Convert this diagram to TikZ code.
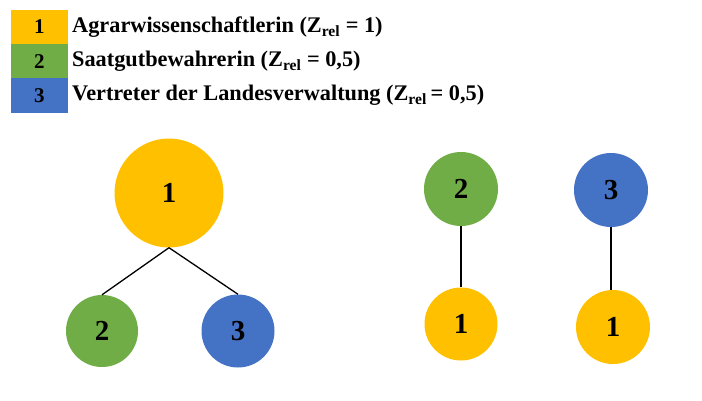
\documentclass[tikz,border=0pt]{standalone}
\usepackage{fontspec}
\setmainfont{Liberation Serif}
\definecolor{cyellow}{HTML}{FFC000}
\definecolor{cgreen}{HTML}{70AD47}
\definecolor{cblue}{HTML}{4472C4}
\begin{document}
\begin{tikzpicture}[x=1pt,y=-1pt,
  legbox/.style={minimum width=57pt,minimum height=34.3pt,inner sep=0pt,font=\fontsize{21}{21}\selectfont\bfseries},
  legtext/.style={anchor=west,inner sep=0pt,font=\fontsize{22.3}{24}\selectfont\bfseries},
  circ/.style={circle,inner sep=0pt,font=\fontsize{29}{29}\selectfont\bfseries},
  link/.style={line width=1.3pt,black}]
\useasboundingbox (0,0) rectangle (702,400);
% legend
\node[legbox,fill=cyellow] (l1) at (39.5,27) {1};
\node[legbox,fill=cgreen] (l2) at (39.5,61.3) {2};
\node[legbox,fill=cblue] (l3) at (39.5,95.6) {3};
\node[legtext] (t1) at (72,27) {Agrarwissenschaftlerin (Z\textsubscript{rel} = 1)};
\node[legtext] (t2) at (72,61.3) {Saatgutbewahrerin (Z\textsubscript{rel} = 0,5)};
\node[legtext] (t3) at (72,95.6) {Vertreter der Landesverwaltung (Z\textsubscript{rel}\,= 0,5)};
% left tree
\node[circ,fill=cyellow,minimum size=109pt] (a1) at (169,193) {1};
\node[circ,fill=cgreen,minimum size=72pt] (a2) at (102,331) {2};
\node[circ,fill=cblue,minimum size=73pt] (a3) at (238,331) {3};
\draw[link] (a1.south) -- (a2.north);
\draw[link] (a1.south) -- (a3.north);
% right pairs
\node[circ,fill=cgreen,minimum size=74pt] (b2) at (461,189) {2};
\node[circ,fill=cyellow,minimum size=73pt] (b1) at (461,324) {1};
\draw[link] (b2.south) -- (b1.north);
\node[circ,fill=cblue,minimum size=74pt] (c3) at (611,190) {3};
\node[circ,fill=cyellow,minimum size=74pt] (c1) at (613,327) {1};
\draw[link] (c3.south) -- (c3.south |- c1.north);
\end{tikzpicture}
\end{document}
